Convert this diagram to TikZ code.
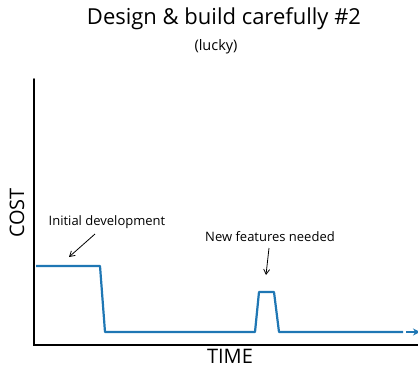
\documentclass[tikz,border=0pt]{standalone}
\usepackage{fontspec}
\setmainfont{Open Sans}
\usetikzlibrary{arrows.meta}
\definecolor{mplblue}{HTML}{1F77B4}
\begin{document}
\begin{tikzpicture}[x=1pt,y=-1pt,
  axisline/.style={line width=1.8pt,black,line cap=round},
  curve/.style={line width=2.2pt,mplblue,line join=round},
  annot/.style={line width=0.8pt,black,-{Straight Barb[length=5pt,width=6pt]}},
  lbl/.style={font=\fontsize{13}{15}\selectfont,inner sep=0pt}
]
\useasboundingbox (0,0) rectangle (418,368);
% title
\node[inner sep=0pt,font=\fontsize{22}{26}\selectfont] (title) at (224,19) {Design \& build carefully \#2};
\node[inner sep=0pt,font=\fontsize{14.5}{17}\selectfont] (sub) at (216,47) {(lucky)};
% axes
\coordinate (ytop) at (34,79);
\coordinate (origin) at (34,345);
\coordinate (xend) at (418,345);
\draw[axisline] (ytop) -- (origin) -- (xend);
\node[inner sep=0pt,rotate=90,font=\fontsize{20}{24}\selectfont] (cost) at (17,213) {COST};
\node[inner sep=0pt,font=\fontsize{20}{24}\selectfont] (time) at (230,356) {TIME};
% curve
\coordinate (p0) at (36,266);
\coordinate (p1) at (100,266);
\coordinate (p2) at (105,332);
\coordinate (p3) at (255,332);
\coordinate (p4) at (259,292);
\coordinate (p5) at (274,292);
\coordinate (p6) at (279,332);
\coordinate (p7) at (403,332);
\coordinate (a0) at (406,332);
\coordinate (a1) at (420,332);
\draw[curve] (p0) -- (p1) -- (p2) -- (p3) -- (p4) -- (p5) -- (p6) -- (p7);
\draw[curve,-{Stealth[length=7pt,width=7pt]}] (a0) -- (a1);
% annotations
\node[lbl] (init) at (107,222) {Initial development};
\coordinate (i0) at (95,234);
\coordinate (i1) at (69,257);
\draw[annot] (i0) -- (i1);
\node[lbl] (newf) at (270,237) {New features needed};
\coordinate (n0) at (269,248);
\coordinate (n1) at (266,275);
\draw[annot] (n0) -- (n1);
\end{tikzpicture}
\end{document}
